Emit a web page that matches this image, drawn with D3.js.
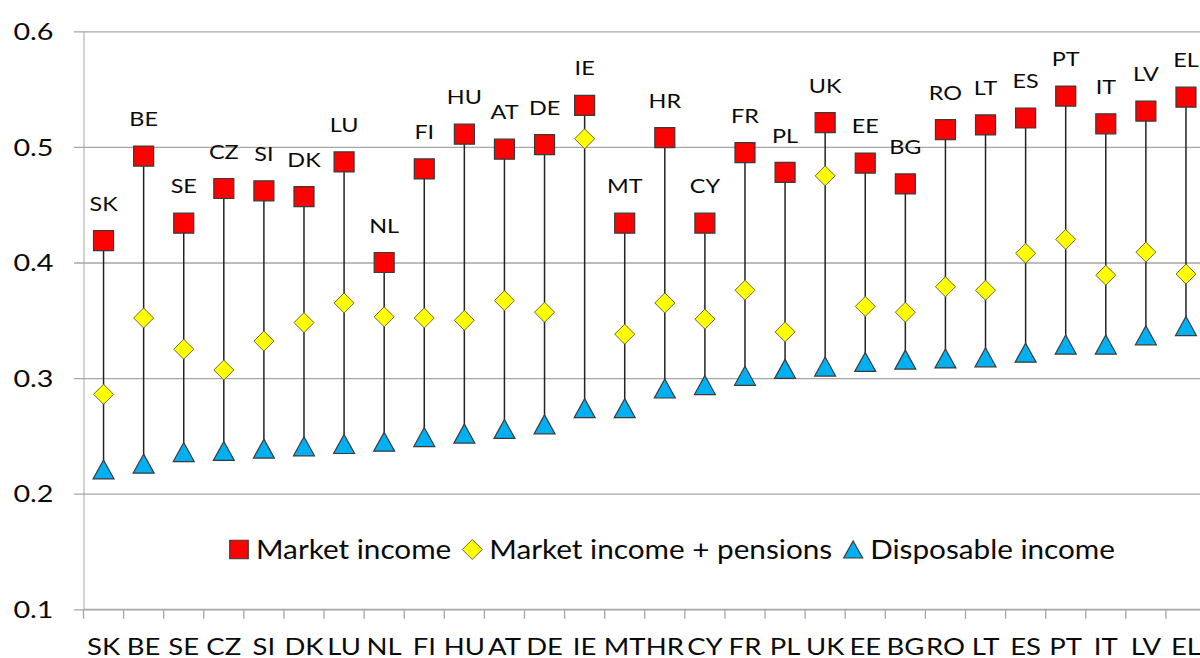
<!DOCTYPE html>
<html>
<head>
<meta charset="utf-8">
<script src="https://cdn.jsdelivr.net/npm/d3@7/dist/d3.min.js"></script>
<style>
  html, body { margin: 0; padding: 0; background: #fff; }
  svg { display: block; font-family: Lato, "Noto Sans", sans-serif; }
  svg text { fill: #0a0a0a; }
</style>
</head>
<body>
<svg id="chart" width="1200" height="658"></svg>
<script>
// Gini coefficients by country for three income concepts
const countries = ["SK","BE","SE","CZ","SI","DK","LU","NL","FI","HU","AT","DE","IE","MT",
                   "HR","CY","FR","PL","UK","EE","BG","RO","LT","ES","PT","IT","LV","EL"];
const marketIncome = [0.419,0.492,0.434,0.464,0.462,0.457,0.487,0.400,0.481,0.511,0.498,0.502,0.536,0.434,
                      0.508,0.434,0.495,0.478,0.521,0.486,0.468,0.515,0.519,0.525,0.544,0.520,0.531,0.543];
const marketPlusPensions = [0.286,0.352,0.325,0.307,0.332,0.348,0.365,0.353,0.352,0.350,0.367,0.357,0.507,0.338,
                            0.365,0.351,0.376,0.340,0.475,0.362,0.357,0.379,0.376,0.408,0.420,0.389,0.409,0.390];
const disposableIncome = [0.221,0.226,0.236,0.237,0.239,0.241,0.243,0.245,0.249,0.252,0.256,0.260,0.274,0.274,
                          0.291,0.294,0.302,0.308,0.310,0.314,0.316,0.317,0.318,0.322,0.329,0.329,0.337,0.345];
const yTicks = [0.1, 0.2, 0.3, 0.4, 0.5, 0.6];
const seriesNames = ["Market income", "Market income + pensions", "Disposable income"];

const svg = d3.select("#chart");
const left = 83.5, bandW = 40.09;
const x = d3.scaleBand().domain(countries).range([left, left + bandW * countries.length]);
const y = d3.scaleLinear().domain([0.1, 0.6]).range([609.3, 31.3]);

const gridColor = "#a6a6a6";
const markerStroke = "#3a3a3a";
// glyphs are set a little wider than the face's natural proportions
const stretch = (px, py, sx) => `translate(${px},${py}) scale(${sx},1)`;

// horizontal gridlines with y tick labels
const yAxis = d3.axisLeft(y).tickValues(yTicks).tickFormat(d3.format(".1f"))
  .tickSize(-(1200 - left)).tickSizeOuter(0);
const gy = svg.append("g").attr("transform", `translate(${left},0)`).call(yAxis);
gy.select(".domain").attr("stroke", gridColor).attr("stroke-width", 1);
gy.selectAll(".tick line").attr("stroke", gridColor).attr("stroke-width", 1.3)
  .attr("x1", -9.5);
gy.selectAll(".tick text").attr("font-size", 23).attr("font-family", "Lato, sans-serif")
  .attr("x", 0).attr("dy", "0.36em").attr("transform", stretch(-30, 0, 1.25));

// x axis with ticks between categories
const gx = svg.append("g").attr("transform", `translate(0,${y(0.1)})`);
gx.append("line").attr("x1", left).attr("x2", 1200).attr("stroke", gridColor).attr("stroke-width", 1.3);
const boundaries = countries.map((c) => x(c)).concat([x(countries[countries.length - 1]) + bandW]);
gx.selectAll("line.tick").data(boundaries).join("line").attr("class", "tick")
  .attr("x1", d => d).attr("x2", d => d).attr("y1", 0).attr("y2", 9.5)
  .attr("stroke", gridColor).attr("stroke-width", 1.3);
gx.selectAll("text").data(countries).join("text")
  .attr("transform", d => stretch(x(d) + bandW / 2, 45.5, 1.17))
  .attr("text-anchor", "middle").attr("font-size", 23.5).text(d => d);

const cx = (i) => x(countries[i]) + bandW / 2;

// high-low connecting lines
svg.append("g").selectAll("line").data(countries).join("line")
  .attr("x1", (d, i) => cx(i)).attr("x2", (d, i) => cx(i))
  .attr("y1", (d, i) => y(marketIncome[i])).attr("y2", (d, i) => y(disposableIncome[i]))
  .attr("stroke", "#222").attr("stroke-width", 1.5);

// marker shapes
const squarePath = (s) => `M${-s/2},${-s/2}h${s}v${s}h${-s}Z`;
const diamondPath = (s) => `M0,${-s/2}L${s/2},0L0,${s/2}L${-s/2},0Z`;
const trianglePath = (w, h) => `M0,${-h/2}L${w/2},${h/2}L${-w/2},${h/2}Z`;

svg.append("g").selectAll("path").data(disposableIncome).join("path")
  .attr("transform", (d, i) => `translate(${cx(i)},${y(d)})`)
  .attr("d", trianglePath(21, 19)).attr("fill", "#00b0f0")
  .attr("stroke", markerStroke).attr("stroke-width", 1.2).attr("stroke-linejoin", "miter");

svg.append("g").selectAll("path").data(marketPlusPensions).join("path")
  .attr("transform", (d, i) => `translate(${cx(i)},${y(d)})`)
  .attr("d", diamondPath(20)).attr("fill", "#ffff00")
  .attr("stroke", "#6b6b2a").attr("stroke-width", 1);

svg.append("g").selectAll("path").data(marketIncome).join("path")
  .attr("transform", (d, i) => `translate(${cx(i)},${y(d)})`)
  .attr("d", squarePath(20)).attr("fill", "#ff0000")
  .attr("stroke", markerStroke).attr("stroke-width", 1.2);

// country labels above market-income markers
svg.append("g").selectAll("text").data(countries).join("text")
  .attr("transform", (d, i) => stretch(cx(i), y(marketIncome[i]) - 29.8, 1.2))
  .attr("text-anchor", "middle").attr("font-size", 19.5).text(d => d);

// legend
const legendScale = 1.1;
const legend = svg.append("g").attr("transform", "translate(229,549.5)");
let lx = 0;
seriesNames.forEach((name, i) => {
  const m = legend.append("path").attr("transform", `translate(${lx + 10},0)`);
  if (i === 0) m.attr("d", squarePath(18.5)).attr("fill", "#ff0000").attr("stroke", markerStroke).attr("stroke-width", 1.2);
  if (i === 1) m.attr("d", diamondPath(20)).attr("fill", "#ffff00").attr("stroke", "#6b6b2a").attr("stroke-width", 1);
  if (i === 2) m.attr("d", trianglePath(19, 17)).attr("fill", "#00b0f0").attr("stroke", markerStroke).attr("stroke-width", 1.2);
  const t = legend.append("text").attr("transform", stretch(lx + 27, 0, legendScale))
    .attr("dy", "0.36em").attr("font-size", 27).text(name);
  lx += 27 + t.node().getComputedTextLength() * legendScale + 11;
});
</script>
</body>
</html>
